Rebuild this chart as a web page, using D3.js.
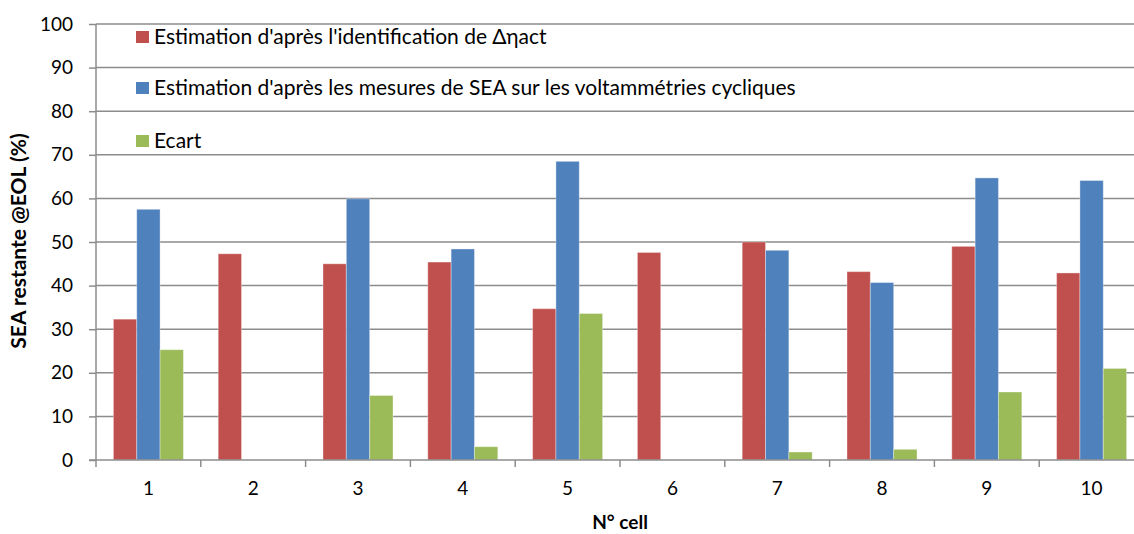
<!DOCTYPE html>
<html>
<head>
<meta charset="utf-8">
<script src="https://cdn.jsdelivr.net/npm/d3@7"></script>
<style>
  html, body { margin: 0; padding: 0; background: #fff; }
  svg { display: block; }
  text { font-family: Lato, "Open Sans", sans-serif; fill: #000; }
</style>
</head>
<body>
<svg id="chart" width="1134" height="534"></svg>
<script>
// Cell numbers and the three estimated series (%)
const cells = ["1", "2", "3", "4", "5", "6", "7", "8", "9", "10"];
const estIdentification = [32.3, 47.3, 45.0, 45.4, 34.7, 47.6, 50.0, 43.2, 49.0, 42.9];
const estVoltammetry   = [57.5, null, 59.9, 48.4, 68.5, null, 48.1, 40.7, 64.7, 64.1];
const ecart            = [25.3, null, 14.8, 3.05, 33.6, null, 1.83, 2.45, 15.6, 21.0];
const yTicks = [0, 10, 20, 30, 40, 50, 60, 70, 80, 90, 100];

const seriesNames = [
  "Estimation d'après l'identification de Δηact",
  "Estimation d'après les mesures de SEA sur les voltammétries cycliques",
  "Ecart"
];
const seriesColors = ["#C0504D", "#4F81BD", "#9BBB59"];
const seriesData = [estIdentification, estVoltammetry, ecart];

const svg = d3.select("#chart");
const plotLeft = 96, plotRight = 1144, plotTop = 24, plotBottom = 460;

const x = d3.scaleBand().domain(cells).range([plotLeft, plotRight]).padding(0);
const y = d3.scaleLinear().domain([0, 100]).range([plotBottom, plotTop]);
const groupPad = 0.166;
const sub = d3.scaleBand().domain([0, 1, 2])
  .range([x.bandwidth() * groupPad, x.bandwidth() * (1 - groupPad)]).padding(0);

const gridColor = "#8c8c8c";

// horizontal gridlines
svg.append("g").selectAll("line").data(yTicks.filter(d => d > 0)).join("line")
  .attr("x1", plotLeft).attr("x2", plotRight)
  .attr("y1", d => y(d)).attr("y2", d => y(d))
  .attr("stroke", gridColor).attr("stroke-width", 1.5);

// y axis
const yAxis = svg.append("g").attr("transform", `translate(${plotLeft},0)`)
  .call(d3.axisLeft(y).tickValues(yTicks).tickSize(7).tickPadding(16).tickFormat(d3.format("d")));
yAxis.select(".domain").attr("stroke", gridColor).attr("stroke-width", 1.5)
  .attr("d", `M0,${plotTop}V${plotBottom + 7}`);
yAxis.selectAll(".tick line").attr("stroke", gridColor).attr("stroke-width", 1.5);
yAxis.selectAll(".tick text").style("font-size", "19px").attr("fill", "#000");

// bars
const groups = svg.append("g").selectAll("g").data(cells).join("g")
  .attr("transform", d => `translate(${x(d)},0)`);
groups.selectAll("rect")
  .data((c, i) => seriesData.map((s, k) => ({ k, v: s[i] })).filter(d => d.v != null))
  .join("rect")
  .attr("x", d => sub(d.k))
  .attr("width", sub.bandwidth())
  .attr("y", d => y(d.v))
  .attr("height", d => y(0) - y(d.v))
  .attr("fill", d => seriesColors[d.k])
  .attr("stroke", "rgba(255,255,255,0.35)")
  .attr("stroke-width", 1);

// x axis
const xAxis = svg.append("g").attr("transform", `translate(0,${plotBottom})`)
  .call(d3.axisBottom(x).tickSize(0).tickPadding(22));
xAxis.select(".domain").attr("stroke", gridColor).attr("stroke-width", 1.5)
  .attr("d", `M${plotLeft - 7},0H${plotRight}`);
xAxis.selectAll(".tick text").style("font-size", "19px").attr("fill", "#000");
svg.append("g").selectAll("line").data(cells.slice(1)).join("line")
  .attr("x1", d => x(d)).attr("x2", d => x(d))
  .attr("y1", plotBottom).attr("y2", plotBottom + 7)
  .attr("stroke", gridColor).attr("stroke-width", 1.5);

// axis titles
svg.append("text")
  .attr("transform", `translate(26,241) rotate(-90)`)
  .attr("text-anchor", "middle")
  .style("font-size", "21px").style("font-weight", "bold")
  .text("SEA restante @EOL (%)");
svg.append("text")
  .attr("x", 620).attr("y", 529)
  .attr("text-anchor", "middle")
  .style("font-size", "19px").style("font-weight", "bold")
  .text("N° cell");

// legend
const legendY = [37, 88, 141];
const legend = svg.append("g").selectAll("g").data(seriesNames).join("g")
  .attr("transform", (d, i) => `translate(136,${legendY[i]})`);
legend.append("rect").attr("x", 0).attr("y", -6).attr("width", 13).attr("height", 12)
  .attr("fill", (d, i) => seriesColors[i]);
legend.append("text").attr("x", 18).attr("y", 0).attr("dy", "0.35em")
  .style("font-size", "21px").text(d => d);
</script>
</body>
</html>
